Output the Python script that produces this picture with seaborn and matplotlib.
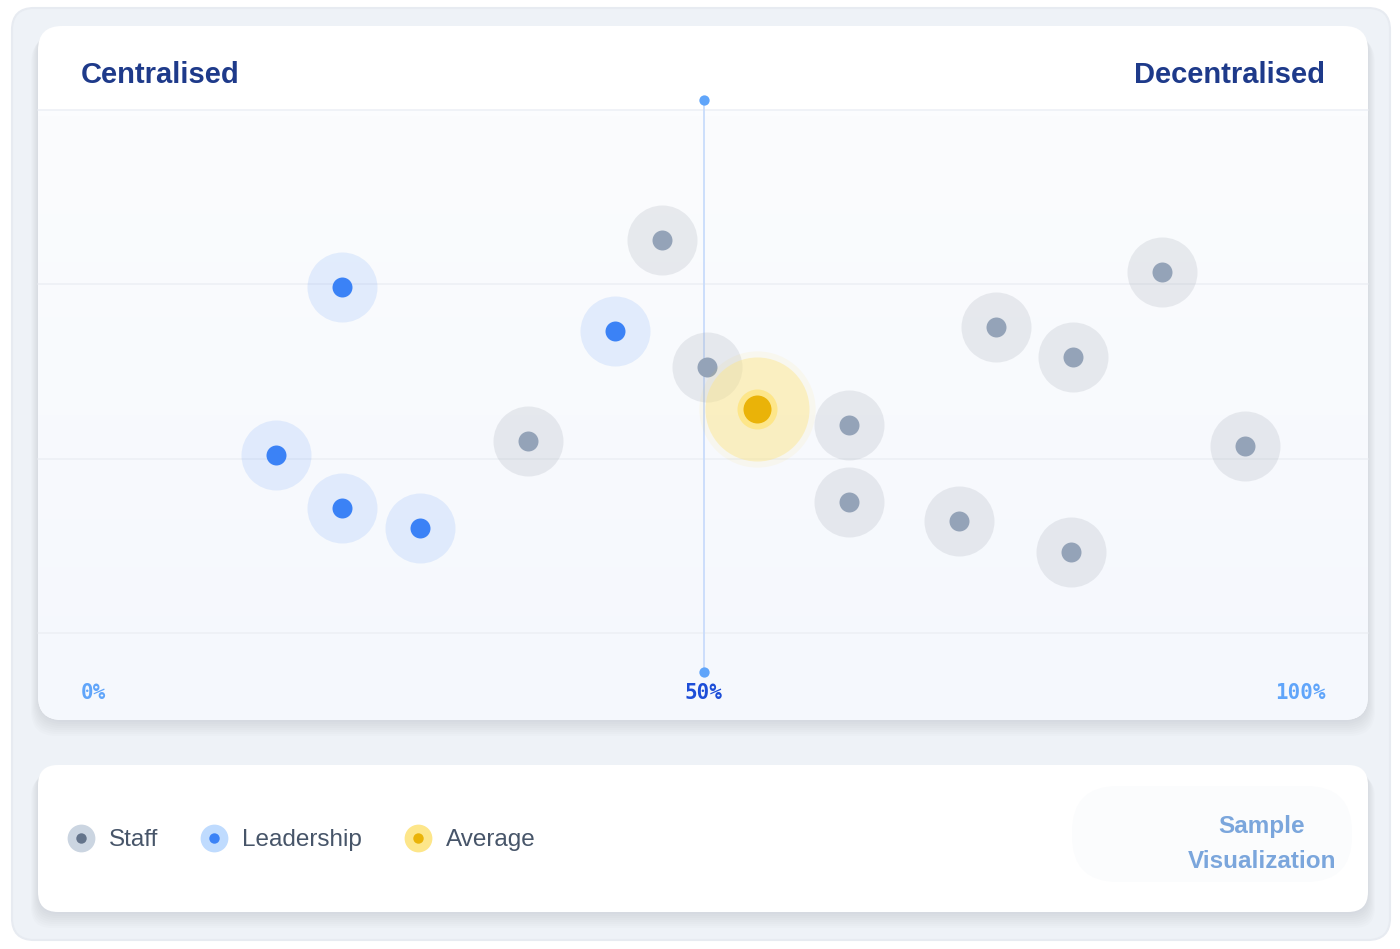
import numpy as np
import matplotlib
matplotlib.use("Agg")
import matplotlib.pyplot as plt
from matplotlib.patches import FancyBboxPatch
from matplotlib.lines import Line2D
from matplotlib.legend_handler import HandlerTuple
import seaborn as sns

# positions: x = % along centralised -> decentralised, y = vertical spread (0-100)
staff_x = [46.7, 50.3, 35.9, 61.7, 61.7, 70.5, 79.5, 73.5, 79.7, 86.8, 93.5]
staff_y = [75.1, 50.9, 36.7, 39.8, 25.0, 21.4, 15.5, 58.5, 52.8, 69.0, 35.8]
lead_x = [21.0, 42.9, 15.7, 21.0, 27.2]
lead_y = [66.2, 57.7, 34.0, 23.9, 20.1]
avg_x = [54.3]
avg_y = [42.8]
tick_vals = [0, 50, 100]
tick_labels = ["0%", "50%", "100%"]
grid_levels = [0, 33.3, 66.7, 100]
left_label = "Centralised"
right_label = "Decentralised"
legend_names = ["Staff", "Leadership", "Average"]

W, H = 1400, 949
sns.set_theme(style="white")
plt.rcParams['font.family'] = ['Liberation Sans', 'DejaVu Sans']

fig = plt.figure(figsize=(W / 100, H / 100), dpi=100, facecolor='white')
bg = fig.add_axes([0, 0, 1, 1])
bg.set_xlim(0, W)
bg.set_ylim(H, 0)
bg.axis('off')


def card(x0, y0, x1, y1, r, fc, ec='none', lw=0, z=0, alpha=1.0):
    p = FancyBboxPatch((x0 + r, y0 + r), x1 - x0 - 2 * r, y1 - y0 - 2 * r,
                       boxstyle=f"round,pad={r}", fc=fc, ec=ec, lw=lw,
                       zorder=z, alpha=alpha)
    bg.add_patch(p)
    return p


# outer panel
card(12, 8, 1390, 940, 22, '#eef2f7', ec='#e7ebf1', lw=1.5)

# soft shadows under cards
for i in range(8):
    card(38 - i, 27 + i * 1.5, 1368 + i, 722 + i * 2, 25, '#1e293b', z=1, alpha=0.011)
    card(38 - i, 766 + i * 1.5, 1368 + i, 914 + i * 2, 20, '#1e293b', z=1, alpha=0.011)

top = card(38, 26, 1368, 720, 24, 'white', z=2)
grad = np.linspace(0, 1, 100).reshape(-1, 1)
im = bg.imshow(grad, extent=[38, 1368, 720, 110], origin='upper',
               cmap=matplotlib.colors.LinearSegmentedColormap.from_list(
                   'tint', ['#fbfcfe', '#f5f8fd']), aspect='auto', zorder=2.5)
im.set_clip_path(top)
bg.set_xlim(0, W)
bg.set_ylim(H, 0)

card(38, 765, 1368, 912, 20, 'white', z=2)
card(1072, 786, 1352, 882, 46, '#fbfcfd', z=2.5)

bg.text(81, 75, left_label, ha='left', va='center', fontsize=21,
        fontweight='bold', color='#1e3a8a', zorder=3)
bg.text(1325, 75, right_label, ha='right', va='center', fontsize=21,
        fontweight='bold', color='#1e3a8a', zorder=3)
bg.text(1262, 827, "Sample", ha='center', va='center', fontsize=17.5,
        fontweight='bold', color='#7ba6dc', zorder=3)
bg.text(1262, 861, "Visualization", ha='center', va='center', fontsize=17.5,
        fontweight='bold', color='#7ba6dc', zorder=3)

# data axes
ax = fig.add_axes([81 / W, (H - 633) / H, 1245 / W, 523 / H])
ax.set_xlim(0, 100)
ax.set_ylim(0, 100)
ax.axis('off')
ax.patch.set_alpha(0)

ext_l = -43 / 1245
ext_r = 1 + 42 / 1245
for g in grid_levels:
    ax.axhline(g, xmin=ext_l, xmax=ext_r, color='#eceff5', lw=1.1,
               clip_on=False, zorder=0)

lo, hi = (633 - 672) / 523, (633 - 100) / 523
ax.axvline(50, ymin=lo, ymax=hi, color='#c9dcfb', lw=1.3, clip_on=False, zorder=1)
ax.scatter([50, 50], [lo * 100, hi * 100], s=55, color='#60a5fa',
           linewidth=0, clip_on=False, zorder=1.5)

# staff
sns.scatterplot(x=staff_x, y=staff_y, s=2540, color='#9ca3af', alpha=0.2,
                linewidth=0, ax=ax, legend=False, zorder=2, clip_on=False)
sns.scatterplot(x=staff_x, y=staff_y, s=207, color='#94a3b8',
                linewidth=0, ax=ax, legend=False, zorder=3, clip_on=False)
# leadership
sns.scatterplot(x=lead_x, y=lead_y, s=2540, color='#3b82f6', alpha=0.12,
                linewidth=0, ax=ax, legend=False, zorder=2, clip_on=False)
sns.scatterplot(x=lead_x, y=lead_y, s=207, color='#3b82f6',
                linewidth=0, ax=ax, legend=False, zorder=3, clip_on=False)
# average
sns.scatterplot(x=avg_x, y=avg_y, s=7000, color='#facc15', alpha=0.06,
                linewidth=0, ax=ax, legend=False, zorder=4, clip_on=False)
sns.scatterplot(x=avg_x, y=avg_y, s=5610, color='#fde68a', alpha=0.45,
                linewidth=0, ax=ax, legend=False, zorder=4, clip_on=False)
sns.scatterplot(x=avg_x, y=avg_y, s=829, color='#fde68a',
                linewidth=0, ax=ax, legend=False, zorder=5, clip_on=False)
sns.scatterplot(x=avg_x, y=avg_y, s=406, color='#eab308',
                linewidth=0, ax=ax, legend=False, zorder=6, clip_on=False)

tick_y = (633 - 693) / 523 * 100
for v, lab, ha, col in zip(tick_vals, tick_labels, ['left', 'center', 'right'],
                           ['#60a5fa', '#1d4ed8', '#60a5fa']):
    ax.text(v, tick_y, lab, ha=ha, va='center', fontsize=15, fontweight='bold',
            family='DejaVu Sans Mono', color=col, clip_on=False)

# legend
pairs = [('#cbd5e1', '#64748b'), ('#bfdbfe', '#3b82f6'), ('#fde68a', '#eab308')]
handles = []
for halo, dot in pairs:
    handles.append((Line2D([], [], marker='o', ls='', ms=20, mfc=halo, mec='none'),
                    Line2D([], [], marker='o', ls='', ms=7.5, mfc=dot, mec='none')))
fig.legend(handles, legend_names, handler_map={tuple: HandlerTuple(ndivide=1)},
           loc='center left', bbox_to_anchor=(66.4 / W, (H - 840) / H),
           ncol=3, frameon=False, fontsize=17.5, handlelength=1.2,
           handletextpad=0.55, columnspacing=1.7, borderpad=0,
           borderaxespad=0, labelcolor='#475569')

fig.savefig('out.png', dpi=100)
